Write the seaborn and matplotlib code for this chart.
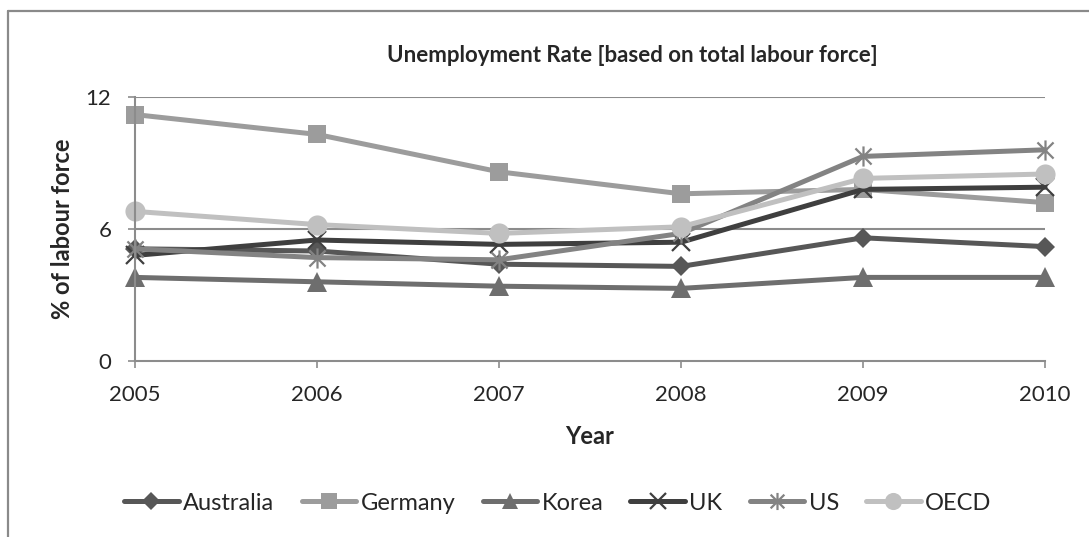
import matplotlib
matplotlib.use("Agg")
import matplotlib.pyplot as plt
from matplotlib.path import Path
from matplotlib.lines import Line2D
import seaborn as sns
import pandas as pd

years = [2005, 2006, 2007, 2008, 2009, 2010]
countries = ["Australia", "Germany", "Korea", "UK", "US", "OECD"]
australia = [5.1, 5.0, 4.4, 4.3, 5.6, 5.2]
germany = [11.2, 10.3, 8.6, 7.6, 7.8, 7.2]
korea = [3.8, 3.6, 3.4, 3.3, 3.8, 3.8]
uk = [4.8, 5.5, 5.3, 5.4, 7.8, 7.9]
us = [5.1, 4.7, 4.6, 5.8, 9.3, 9.6]
oecd = [6.8, 6.2, 5.8, 6.1, 8.3, 8.5]
y_ticks = [0, 6, 12]

series = dict(zip(countries, [australia, germany, korea, uk, us, oecd]))
df = pd.DataFrame([(c, y, v) for c in countries for y, v in zip(years, series[c])],
                  columns=["Country", "Year", "Rate"])

colors = {"Australia": "#575757", "Germany": "#9c9c9c", "Korea": "#6e6e6e",
          "UK": "#3f3f3f", "US": "#838383", "OECD": "#c0c0c0"}
asterisk = Path([(-1, -1), (1, 1), (-1, 1), (1, -1), (0, -1.25), (0, 1.25)],
                [Path.MOVETO, Path.LINETO, Path.MOVETO, Path.LINETO, Path.MOVETO, Path.LINETO])
markers = {"Australia": "D", "Germany": "s", "Korea": "^", "UK": "x", "US": asterisk, "OECD": "o"}
msizes = {"Australia": 10.5, "Germany": 13, "Korea": 14, "UK": 13, "US": 14.5, "OECD": 14.5}

sns.set_theme(style="white")
plt.rcParams["font.family"] = ["Lato", "DejaVu Sans"]

fig = plt.figure(figsize=(10.89, 5.37), dpi=100)
W, H = 1089, 537
ax = fig.add_axes([135 / W, 1 - 361 / H, (1045 - 135) / W, (361 - 97) / H])

sns.lineplot(data=df, x="Year", y="Rate", hue="Country",
             hue_order=countries, palette=colors,
             linewidth=3.6, legend=False, ax=ax)

handles = []
for line, c in zip(ax.get_lines(), countries):
    col = colors[c]
    mew = 1.6 if c in ("UK", "US") else 0
    line.set_marker(markers[c])
    line.set_markersize(msizes[c])
    line.set_markerfacecolor(col)
    line.set_markeredgecolor(col)
    line.set_markeredgewidth(mew)
    line.set_solid_capstyle("round")
    line.set_clip_on(False)
    h = Line2D([], [], color=col, linewidth=3.6, marker=markers[c], markersize=msizes[c] * 0.85,
               markerfacecolor=col, markeredgecolor=col,
               markeredgewidth=mew, solid_capstyle="round")
    handles.append(h)

ax.set_xlim(2005, 2010)
ax.set_ylim(0, 12)
ax.set_yticks(y_ticks)
ax.set_xticks(years)
ax.set_xticklabels([str(y) for y in years])
grid_c = "#8c8c8c"
for yv in [6, 12]:
    ax.axhline(yv, color=grid_c, linewidth=1.5, zorder=0)
for s in ["top", "right"]:
    ax.spines[s].set_visible(False)
for s in ["left", "bottom"]:
    ax.spines[s].set_color(grid_c)
    ax.spines[s].set_linewidth(1.5)
ax.tick_params(axis="x", direction="out", length=5, width=1.2, color=grid_c,
               labelsize=16, pad=12, bottom=True)
ax.tick_params(axis="y", direction="out", length=5, width=1.2, color=grid_c,
               labelsize=16, pad=12, left=True)
ax.set_xlabel("Year", fontsize=17, fontweight="bold")
ax.set_ylabel("% of labour force", fontsize=17, fontweight="bold")
ax.xaxis.set_label_coords(0.5, (361 - 425) / 264)
ax.yaxis.set_label_coords((74 - 135) / 910, 0.5)
ax.patch.set_alpha(0)

fig.text(632 / W, 1 - 55 / H, "Unemployment Rate [based on total labour force]",
         ha="center", va="center", fontsize=16, fontweight="bold")

fig.legend(handles=handles, labels=countries, loc="center", bbox_to_anchor=(558 / W, 1 - 503 / H),
           ncol=6, frameon=False, fontsize=17, handlelength=2.3, handletextpad=0.2,
           columnspacing=1.15)

border_c = "#8a8a8a"
fig.add_artist(Line2D([8 / W, 1.0], [1 - 11 / H, 1 - 11 / H], color=border_c, linewidth=1.6,
                      transform=fig.transFigure))
fig.add_artist(Line2D([8 / W, 8 / W], [1 - 11 / H, 0], color=border_c, linewidth=1.6,
                      transform=fig.transFigure))

fig.savefig("out.png", dpi=100)
